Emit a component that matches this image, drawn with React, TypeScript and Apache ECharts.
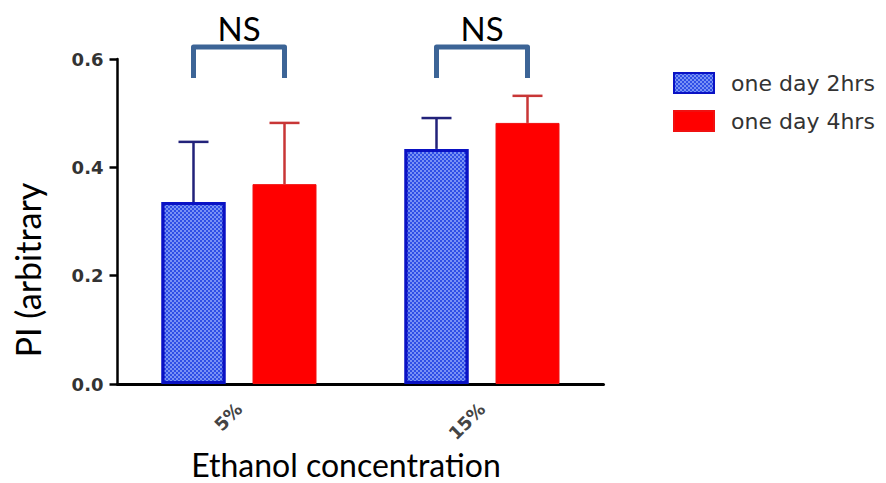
import React, { useEffect, useRef } from "react";
import * as echarts from "echarts";

const categories = ["5%", "15%"];
const seriesNames = ["one day 2hrs", "one day 4hrs"];
const mean2hrs = [0.336, 0.434];
const err2hrs = [0.447, 0.491];
const mean4hrs = [0.369, 0.482];
const err4hrs = [0.482, 0.532];
const yTicks = [0, 0.2, 0.4, 0.6];
const annotations = ["NS", "NS"];

const BAR_W = 64;
const BAR_GAP = 27;
const HALF = (BAR_W + BAR_GAP) / 2;

export default function App() {
  const ref = useRef<HTMLDivElement>(null);
  useEffect(() => {
    if (!ref.current) return;
    const chart = echarts.init(ref.current, undefined, { renderer: "svg" });

    const errSeries = (name: string, means: number[], tops: number[], sign: number, color: string) => ({
      type: "custom",
      name,
      z: 5,
      silent: true,
      data: means.map((m, i) => [i, m, tops[i]]),
      renderItem: (params: any, api: any) => {
        const base = api.coord([api.value(0), api.value(1)]);
        const top = api.coord([api.value(0), api.value(2)]);
        const x = base[0] + sign * HALF;
        return {
          type: "group",
          children: [
            { type: "line", shape: { x1: x, y1: base[1], x2: x, y2: top[1] }, style: { stroke: color, lineWidth: 2.5 } },
            { type: "line", shape: { x1: x - 15, y1: top[1], x2: x + 15, y2: top[1] }, style: { stroke: color, lineWidth: 2.5 } },
          ],
        };
      },
    });

    const option: any = {
      animation: false,
      grid: { left: 117.5, right: 282.5, top: 59, bottom: 99 },
      legend: {
        data: seriesNames,
        orient: "vertical",
        left: 673,
        top: 72,
        padding: 0,
        itemWidth: 40,
        itemHeight: 20,
        itemGap: 16,
        icon: "rect",
        textStyle: { fontFamily: "DejaVu Sans", fontSize: 22, color: "#333", padding: [0, 0, 0, 12] },
      },
      xAxis: {
        type: "category",
        data: categories,
        axisLine: { lineStyle: { color: "#000", width: 3 } },
        axisTick: { alignWithLabel: true, length: 8, lineStyle: { color: "#000", width: 2.5 } },
        axisLabel: {
          rotate: 45,
          margin: 22,
          fontFamily: "DejaVu Sans",
          fontWeight: "bold",
          fontSize: 18,
          color: "#444",
        },
      },
      yAxis: {
        type: "value",
        min: yTicks[0],
        max: yTicks[yTicks.length - 1],
        interval: 0.2,
        splitLine: { show: false },
        axisLine: { show: true, lineStyle: { color: "#000", width: 2.5 } },
        axisTick: { show: true, length: 8, lineStyle: { color: "#000", width: 2.5 } },
        axisLabel: {
          margin: 14,
          fontFamily: "DejaVu Sans",
          fontWeight: "bold",
          fontSize: 18,
          color: "#333",
          formatter: (v: number) => v.toFixed(1),
        },
      },
      series: [
        {
          type: "bar",
          name: seriesNames[0],
          data: mean2hrs,
          barWidth: BAR_W,
          barGap: (BAR_GAP / BAR_W) * 100 + "%",
          itemStyle: {
            color: "#2f4fe6",
            borderColor: "#0a12c4",
            borderWidth: 3,
            decal: {
              symbol: "rect",
              symbolSize: 1,
              dashArrayX: [[2, 2], [0, 2, 2, 0]],
              dashArrayY: [2, 0],
              color: "rgba(170,190,255,0.6)",
            },
          },
        },
        {
          type: "bar",
          name: seriesNames[1],
          data: mean4hrs,
          barWidth: BAR_W,
          itemStyle: { color: "#ff0000", borderColor: "#f01010", borderWidth: 1 },
        },
        errSeries("err2", mean2hrs, err2hrs, -1, "#22227a"),
        errSeries("err4", mean4hrs, err4hrs, 1, "#c83636"),
        {
          type: "custom",
          name: "brackets",
          silent: true,
          clip: false,
          z: 6,
          data: annotations.map((t, i) => [i, 0.6]),
          renderItem: (params: any, api: any) => {
            const i = params.dataIndex;
            const c = api.coord([api.value(0), 0.622]);
            const b = api.coord([api.value(0), 0.565]);
            const t = api.coord([api.value(0), 0.657]);
            const xl = c[0] - HALF;
            const xr = c[0] + HALF;
            return {
              type: "group",
              children: [
                {
                  type: "polyline",
                  shape: { points: [[xl, b[1]], [xl, c[1]], [xr, c[1]], [xr, b[1]]] },
                  style: { stroke: "#3c6496", lineWidth: 5, fill: null, lineJoin: "round" },
                },
                {
                  type: "text",
                  x: c[0],
                  y: t[1],
                  style: {
                    text: annotations[i],
                    fontFamily: "Lato",
                    fontSize: 33,
                    fill: "#000",
                    align: "center",
                    verticalAlign: "middle",
                  },
                },
              ],
            };
          },
        },
      ],
      graphic: [
        {
          type: "text",
          x: 27,
          y: 270,
          rotation: Math.PI / 2,
          style: {
            text: "PI (arbitrary",
            fontFamily: "Lato",
            fontSize: 34,
            fill: "#000",
            align: "center",
            verticalAlign: "middle",
          },
        },
        {
          type: "text",
          x: 346,
          y: 464,
          style: {
            text: "Ethanol concentration",
            fontFamily: "Lato",
            fontSize: 32,
            fill: "#000",
            align: "center",
            verticalAlign: "middle",
          },
        },
      ],
    };
    chart.setOption(option);
    return () => chart.dispose();
  }, []);
  return <div ref={ref} style={{ position: "fixed", left: 0, top: 0, width: 886, height: 483, background: "#fff" }} />;
}
